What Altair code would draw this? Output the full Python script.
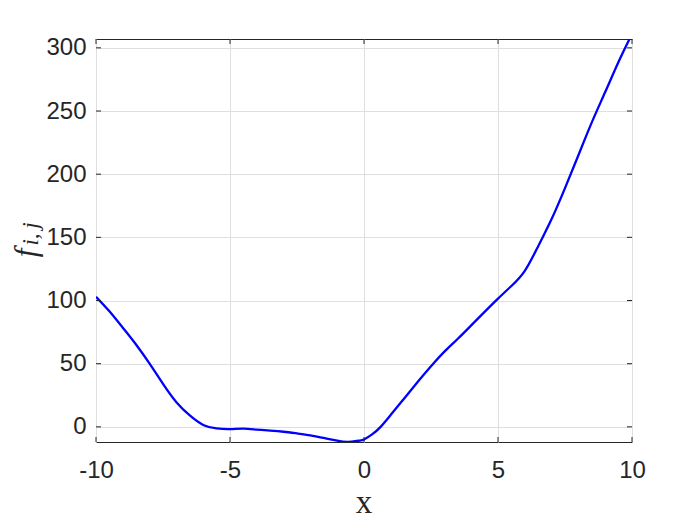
import altair as alt
import pandas as pd

# curve values
x_vals = [-10, -9.5, -9, -8.5, -8, -7.5, -7, -6.5, -6, -5.5, -5, -4.5, -4, -3.5, -3,
          -2.5, -2, -1.5, -1, -0.6, -0.2, 0, 0.3, 0.62, 1, 1.5, 2, 2.5, 3, 3.5, 4, 4.5,
          5, 5.5, 6, 6.5, 7, 7.5, 8, 8.5, 9, 9.5, 10]
y_vals = [103, 91.5, 78.5, 65, 50, 34, 19.5, 9, 1.5, -1.3, -1.8, -1.4, -2.2, -3.0, -3.9,
          -5.2, -6.7, -8.8, -11.0, -12.0, -11.0, -10.0, -6.0, 0, 9.5, 22.5, 35.5, 48, 59.5, 69.7, 80.3, 91,
          101.5, 111.5, 123.5, 143, 164.5, 189, 215, 241, 265, 289, 311]

x_ticks = [-10, -5, 0, 5, 10]
y_ticks = [0, 50, 100, 150, 200, 250, 300]
x_domain = [-10, 10]
y_domain = [-12, 307]

W, H = 536, 403
INK = "#262626"

curve = pd.DataFrame({"x": x_vals, "y": y_vals})
xt = pd.DataFrame({"v": x_ticks})
yt = pd.DataFrame({"v": y_ticks})

xs = alt.Scale(domain=x_domain, nice=False, zero=False)
ys = alt.Scale(domain=y_domain, nice=False, zero=False)

line = alt.Chart(curve).mark_line(color="#0000ff", strokeWidth=2.3, interpolate="natural", clip=True).encode(
    x=alt.X("x:Q", scale=xs, axis=alt.Axis(values=x_ticks, title=None, labelBaseline="alphabetic",
                                           labelPadding=35, labelFlush=False,
                                           labelExpr="toString(datum.value)")),
    y=alt.Y("y:Q", scale=ys, axis=alt.Axis(values=y_ticks, title=None, labelPadding=10, labelFlush=False,
                                           labelExpr="toString(datum.value)")),
)

xt_bottom = alt.Chart(xt).mark_rule(color=INK, strokeWidth=1).encode(
    x=alt.X("v:Q", scale=xs), y=alt.value(H), y2=alt.value(H - 5))
xt_top = alt.Chart(xt).mark_rule(color=INK, strokeWidth=1).encode(
    x=alt.X("v:Q", scale=xs), y=alt.value(0), y2=alt.value(5))
yt_left = alt.Chart(yt).mark_rule(color=INK, strokeWidth=1).encode(
    y=alt.Y("v:Q", scale=ys), x=alt.value(0), x2=alt.value(5))
yt_right = alt.Chart(yt).mark_rule(color=INK, strokeWidth=1).encode(
    y=alt.Y("v:Q", scale=ys), x=alt.value(W), x2=alt.value(W - 5))

x_title = alt.Chart(pd.DataFrame({"t": ["x"]})).mark_text(
    font="Liberation Serif", fontSize=33, color=INK, align="center", baseline="alphabetic"
).encode(text="t:N", x=alt.value(268), y=alt.value(474))

f_title = alt.Chart(pd.DataFrame({"t": ["f"]})).mark_text(
    font="Liberation Serif", fontSize=31, fontStyle="italic", color=INK, align="center",
    baseline="alphabetic", angle=270
).encode(text="t:N", x=alt.value(-60), y=alt.value(214))

ij_title = alt.Chart(pd.DataFrame({"t": ["i,\u2009j"]})).mark_text(
    font="Liberation Serif", fontSize=23, fontStyle="italic", color=INK, align="center",
    baseline="alphabetic", angle=270
).encode(text="t:N", x=alt.value(-58), y=alt.value(195))

chart = alt.layer(line, xt_bottom, xt_top, yt_left, yt_right, x_title, f_title, ij_title).properties(
    width=W, height=H,
    autosize=alt.AutoSizeParams(type="none"),
    padding={"left": 88, "top": 31, "right": 60, "bottom": 80},
    background="white",
).configure_view(
    stroke=INK, strokeWidth=1
).configure_axis(
    grid=True, gridColor="#dfdfdf", gridWidth=1, domain=False, ticks=False,
    labelFont="Liberation Sans", labelFontSize=24, labelColor=INK,
)

chart.save("out.html", embed_options={"renderer": "svg", "actions": False})
